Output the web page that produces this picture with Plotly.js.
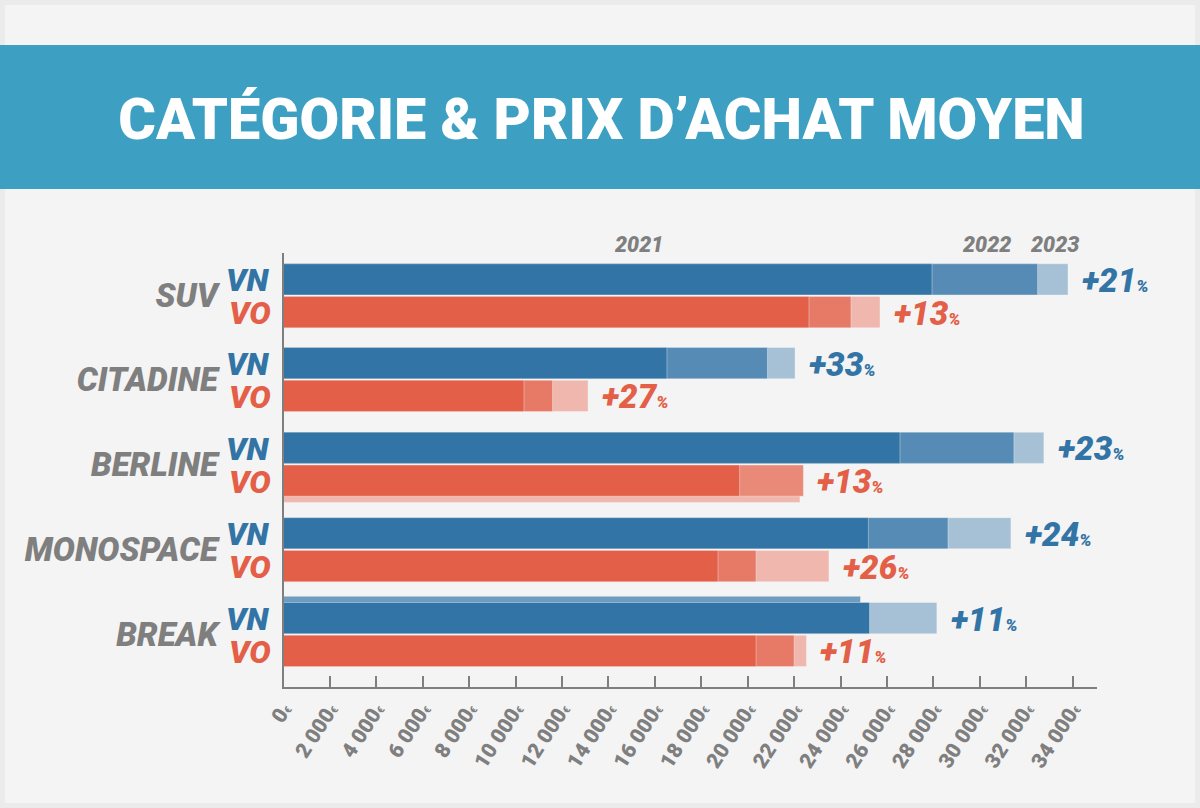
<!DOCTYPE html>
<html><head><meta charset="utf-8">
<script src="https://cdn.plot.ly/plotly-3.0.1.min.js"></script>
<style>html,body{margin:0;padding:0;background:#ebebeb}#c{width:1200px;height:808px}</style>
</head><body><div id="c"></div>
<script>
const categories = ["SUV","CITADINE","BERLINE","MONOSPACE","BREAK"];
const vn2021 = [27940,16520,26560,25200,25250];
const vn2022 = [32490,20850,31470,28630,24860];
const vn2023 = [33800,22040,32760,31340,28150];
const vo2021 = [22640,10360,19650,18720,20360];
const vo2022 = [24450,11590,22400,20360,22000];
const vo2023 = [25700,13120,22250,23500,22530];
const vnGrowth = ["+21","+33","+23","+24","+11"];
const voGrowth = ["+13","+27","+13","+26","+11"];
const tickValues = [0,2000,4000,6000,8000,10000,12000,14000,16000,18000,20000,22000,24000,26000,28000,30000,32000,34000];
const tickLabels = ["0","2 000","4 000","6 000","8 000","10 000","12 000","14 000","16 000","18 000","20 000","22 000","24 000","26 000","28 000","30 000","32 000","34 000"];
const years = ["2021","2022","2023"];

const W=1200,H=808;
const px=x=>x/W, py=y=>1-y/H;
const GRAY='#7f7f7f', BLUE='#3274a5', RED='#e35f47', BG='#f4f4f4';
const rowH=84.7, off=16.4/rowH, bw=31.2/rowH;
const idx=categories.map((_,i)=>i);
const rowPos=[0,0.989,1.989,2.998,4.0];

function bar(name,vals,sign,color,shift,over){
  return {type:'bar',orientation:'h',name,x:vals,
    y:idx.map(i=>rowPos[i]+sign*off+((shift&&shift[i])||0)),
    width:bw,
    marker:{color:idx.map(i=>(over&&over[i])||color),line:{color:BG,width:0.4}},
    hoverinfo:'skip',showlegend:false};
}
const s=6.2/rowH;
const traces=[
 bar('VN 2023',vn2023,-1,'#a6c1d6'),
 bar('VN 2022',vn2022,-1,'#558bb5',{4:-s},{4:'#6f9dc0'}),
 bar('VN 2021',vn2021,-1,BLUE),
 bar('VO 2023',vo2023,1,'#efb7ae',{2:s}),
 bar('VO 2022',vo2022,1,'#e67a66',null,{2:'#e98a78'}),
 bar('VO 2021',vo2021,1,RED)
];

const ann=[];
const F=(size,color)=>({family:'Roboto',size,color,weight:900,style:'italic'});
const pct="<span style='font-size:17px'>%</span>";
idx.forEach(i=>{
  ann.push({xref:'paper',yref:'y',x:px(272),y:rowPos[i]-off,yshift:-1,text:'VN',showarrow:false,xanchor:'right',yanchor:'middle',font:F(32,BLUE)});
  ann.push({xref:'paper',yref:'y',x:px(272.5),y:rowPos[i]+off,yshift:-1,text:'VO',showarrow:false,xanchor:'right',yanchor:'middle',font:F(32,RED)});
  ann.push({xref:'x',yref:'y',x:Math.max(vn2021[i],vn2022[i],vn2023[i]),xshift:12,yshift:-1,y:rowPos[i]-off,showarrow:false,xanchor:'left',yanchor:'middle',
    text:vnGrowth[i]+pct,font:F(33,BLUE)});
  ann.push({xref:'x',yref:'y',x:Math.max(vo2021[i],vo2022[i],vo2023[i]),xshift:12,yshift:-1,y:rowPos[i]+off,showarrow:false,xanchor:'left',yanchor:'middle',
    text:voGrowth[i]+pct,font:F(33,RED)});
});
[638,986,1054].forEach((x,i)=>ann.push({xref:'paper',yref:'paper',x:px(x),y:py(244),text:years[i],showarrow:false,xanchor:'center',yanchor:'middle',font:F(21.5,GRAY)}));

const layout={
  width:W,height:H,margin:{l:0,r:0,t:0,b:0,pad:0},
  paper_bgcolor:'#ebebeb',plot_bgcolor:'rgba(0,0,0,0)',
  barmode:'overlay',showlegend:false,
  title:{text:'CATÉGORIE & PRIX D’ACHAT MOYEN',x:px(601.5),xref:'paper',xanchor:'center',y:py(119),yref:'paper',yanchor:'middle',
    font:{family:'Roboto',size:57.5,color:'#ffffff',weight:900}},
  shapes:[
    {type:'rect',xref:'paper',yref:'paper',x0:px(5),x1:px(1195),y0:py(5),y1:py(803),fillcolor:BG,line:{width:0},layer:'below'},
    {type:'rect',xref:'paper',yref:'paper',x0:0,x1:1,y0:py(45),y1:py(189),fillcolor:'#3da0c3',line:{width:0},layer:'below'}
  ],
  xaxis:{domain:[px(283.5),px(1096.7)],range:[0,35036],tickmode:'array',tickvals:tickValues,
    ticktext:tickLabels.map(t=>t+"<span style='font-size:10px'>€</span>"),
    tickangle:-57,ticks:'inside',ticklen:11,tickwidth:2,tickcolor:GRAY,
    showline:true,linecolor:GRAY,linewidth:2,showgrid:false,zeroline:false,
    tickfont:{family:'Roboto',size:21,color:GRAY,weight:900},automargin:false},
  yaxis:{domain:[py(687),py(253)],range:[4.62,-0.505],tickmode:'array',tickvals:rowPos,ticktext:categories,
    ticks:'',showline:true,linecolor:GRAY,linewidth:2,showgrid:false,zeroline:false,
    ticklabelstandoff:57,tickfont:F(33,GRAY),automargin:false},
  annotations:ann
};
Plotly.newPlot('c',traces,layout,{displayModeBar:false,staticPlot:true});
</script></body></html>
